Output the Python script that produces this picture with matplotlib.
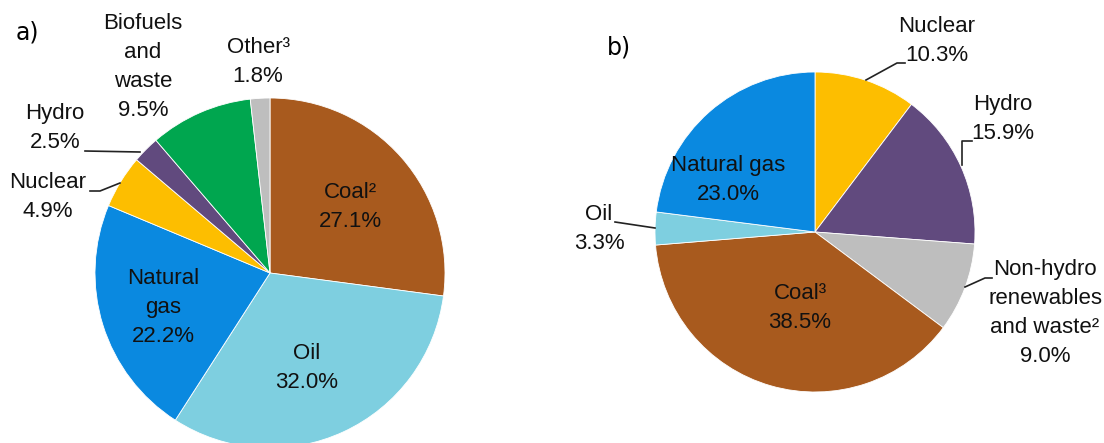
import matplotlib.pyplot as plt

plt.rcParams['font.family'] = ['Liberation Sans', 'DejaVu Sans']

W, H = 1104, 443

# a) left pie, clockwise from 12 o'clock
a_names = ['Coal²', 'Oil', 'Natural\ngas', 'Nuclear', 'Hydro', 'Biofuels\nand\nwaste', 'Other³']
a_values = [27.1, 32.0, 22.2, 4.9, 2.5, 9.5, 1.8]
a_colors = ['#a85a1e', '#7ecfe0', '#0a89e0', '#fdbe00', '#614a7e', '#00a64f', '#bebebe']

# b) right pie, clockwise from 12 o'clock
b_names = ['Nuclear', 'Hydro', 'Non-hydro\nrenewables\nand waste²', 'Coal³', 'Oil', 'Natural gas']
b_values = [10.3, 15.9, 9.0, 38.5, 3.3, 23.0]
b_colors = ['#fdbe00', '#614a7e', '#bebebe', '#a85a1e', '#7ecfe0', '#0a89e0']

# label placement in pixel coords (x, y from top)
a_pos = [(350, 207), (307, 368), (163, 307), (48, 197), (55, 128), (143, 67), (258, 62)]
b_pos = [(937, 41), (1003, 119), (1045, 313), (800, 308), (599, 229), (728, 180)]

a_leaders = {3: [(90, 191), (100, 191), (120, 183)],
             4: [(85, 151), (140, 152)]}
b_leaders = {0: [(866, 80), (897, 63), (905, 63)],
             1: [(962, 165), (962, 141), (972, 141)],
             2: [(965, 287), (985, 278), (992, 278)],
             4: [(615, 222), (655, 228)]}

fig = plt.figure(figsize=(W / 100, H / 100), dpi=100)
ax = fig.add_axes([0, 0, 1, 1])


def draw_pie(values, colors, names, pos, leaders, cx, cy, r):
    ax.pie(values, colors=colors, startangle=90, counterclock=False,
           center=(cx, H - cy), radius=r,
           wedgeprops=dict(linewidth=0.6, edgecolor='white'))
    for i, (name, v) in enumerate(zip(names, values)):
        x, y = pos[i]
        ax.text(x, H - y, f'{name}\n{v:.1f}%', ha='center', va='center',
                fontsize=16, linespacing=1.5, color='#111111')
    for pts in leaders.values():
        ax.plot([p[0] for p in pts], [H - p[1] for p in pts], color='#222222', lw=1.2)


draw_pie(a_values, a_colors, a_names, a_pos, a_leaders, 270, 273, 175)
draw_pie(b_values, b_colors, b_names, b_pos, b_leaders, 815, 232, 160)

ax.text(27, H - 32, 'a)', ha='center', va='center', fontsize=17, family='DejaVu Sans')
ax.text(619, H - 47, 'b)', ha='center', va='center', fontsize=17, family='DejaVu Sans')

ax.set_xlim(0, W)
ax.set_ylim(0, H)
ax.set_aspect('equal')
ax.axis('off')

fig.savefig('out.png', dpi=100)
